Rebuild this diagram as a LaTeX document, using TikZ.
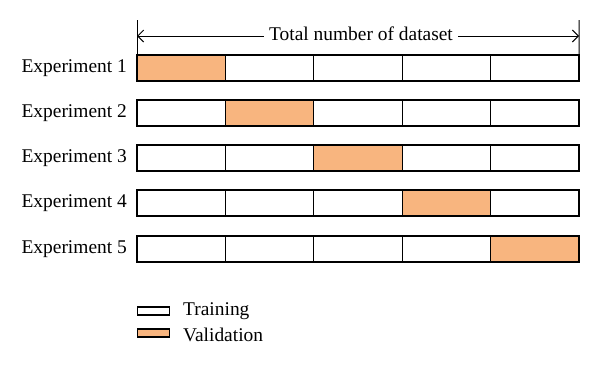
\documentclass[tikz,border=0pt]{standalone}
\usepackage{fontspec}
\setmainfont{Liberation Serif}
\usetikzlibrary{arrows.meta}
\definecolor{valid}{HTML}{F8B57F}
\tikzset{
  cell/.style={draw=black, line width=1.3bp, minimum width=88.4bp, minimum height=26bp, inner sep=0pt, outer sep=0pt, anchor=north west},
  vcell/.style={cell, fill=valid},
  lab/.style={font=\fontsize{19.5}{21}\selectfont, anchor=east, inner sep=0pt},
  legbox/.style={draw=black, line width=1.3bp, minimum width=32bp, minimum height=8bp, inner sep=0pt, anchor=west},
  legtext/.style={font=\fontsize{19.5}{21}\selectfont, anchor=west, inner sep=0pt},
  dim/.style={line width=1bp}
}
\begin{document}
\begin{tikzpicture}[x=1bp,y=-1bp]
\useasboundingbox (0,0) rectangle (600,370);
\foreach \r/\y in {1/55,2/100,3/145,4/190,5/236}{
  \node[lab] (e\r) at (127,\y+13) {Experiment \r};
  \foreach \c in {1,...,5}{
    \ifnum\c=\r
      \node[vcell] (c\r\c) at ({137+(\c-1)*88.4},\y) {};
    \else
      \node[cell] (c\r\c) at ({137+(\c-1)*88.4},\y) {};
    \fi
  }
}
\coordinate (lt) at (137,20);
\coordinate (rt) at (579,20);
\draw[dim] (lt) -- (c11.north west);
\draw[dim] (rt) -- (c15.north east);
\coordinate (la) at (137,36);
\coordinate (ra) at (579,36);
\node[font=\fontsize{19.5}{21}\selectfont, fill=white, inner sep=5bp] (tot) at (361,34) {Total number of dataset};
\draw[dim, -{Straight Barb[length=6bp,width=12bp]}] (tot.west |- la) -- (la);
\draw[dim, -{Straight Barb[length=6bp,width=12bp]}] (tot.east |- ra) -- (ra);
\node[legbox] (lt1) at (137,311) {};
\node[legtext] (lt2) at (183,311) {Training};
\node[legbox, fill=valid] (lv1) at (137,333) {};
\node[legtext] (lv2) at (183,335) {Validation};
\end{tikzpicture}
\end{document}
